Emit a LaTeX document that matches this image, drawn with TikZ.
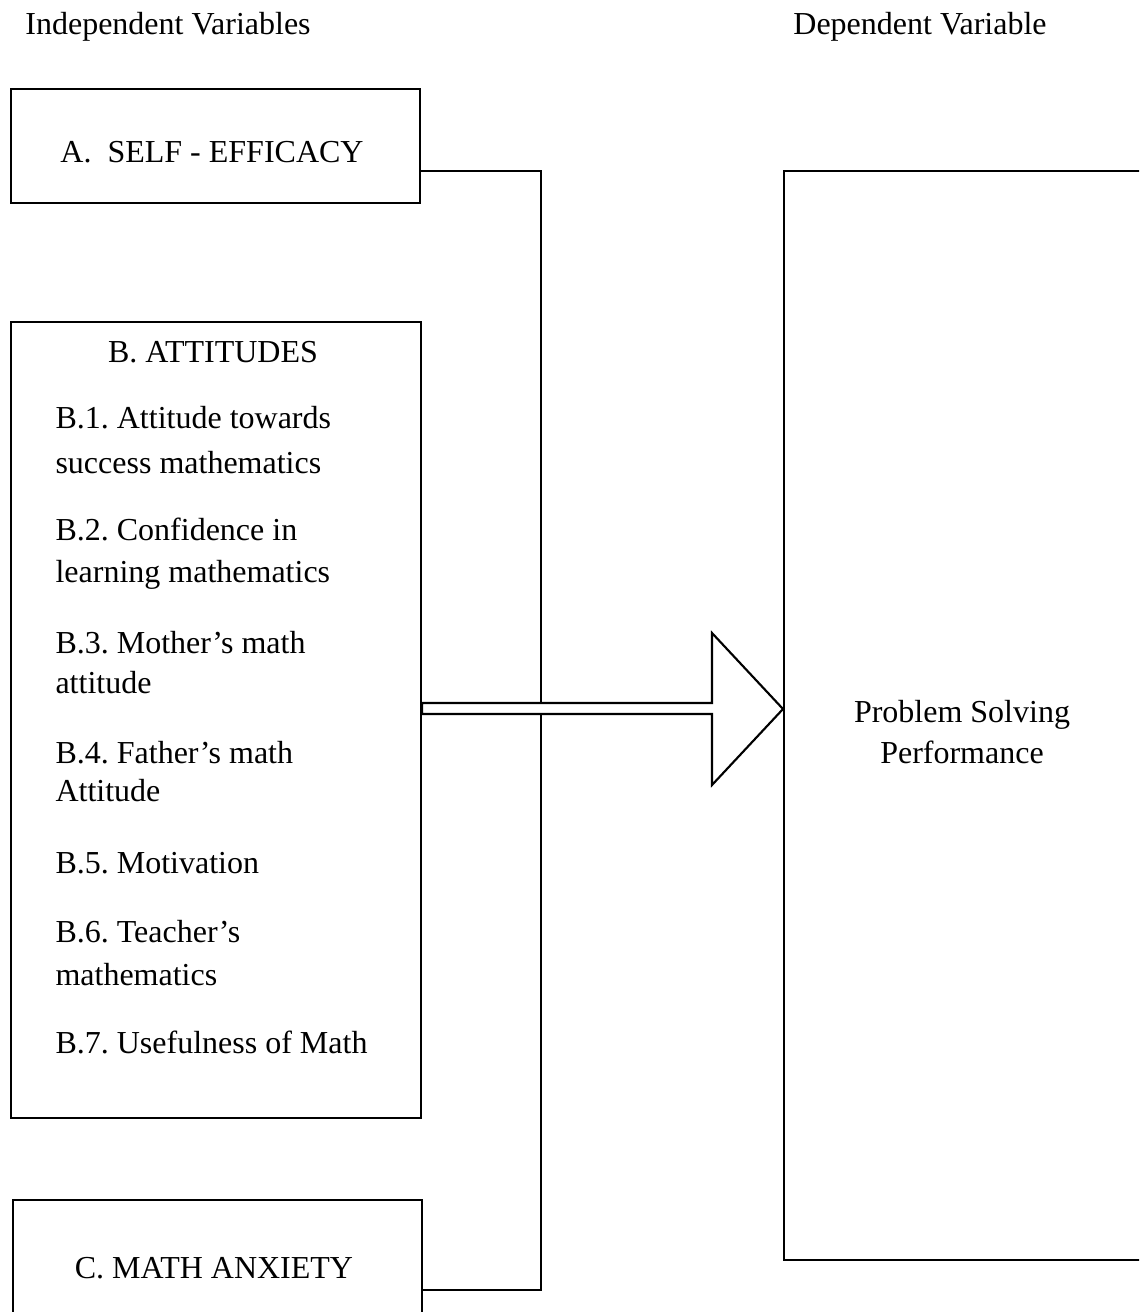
\documentclass[tikz,border=0pt]{standalone}
\usepackage{fontspec}
\setmainfont{Liberation Serif}
\usepackage{tikz}
\usetikzlibrary{positioning}
\frenchspacing

\begin{document}
\begin{tikzpicture}[x=0.375pt, y=-0.375pt,
  box/.style={draw, line width=0.8pt, inner sep=0pt, anchor=north west},
  txt/.style={font=\fontsize{12}{14.4}\selectfont, inner sep=0pt},
  link/.style={draw, line width=0.8pt, line join=miter}]
  \useasboundingbox (0,0) rectangle (1139,1312);
  \clip (0,0) rectangle (1139,1312);
  % headings
  \node[txt, anchor=base] (indep) at (168,35) {Independent Variables};
  \node[txt, anchor=base] (dep)   at (920,35) {Dependent Variable};
  % boxes
  \node[box, minimum width=153.4pt, minimum height=42.75pt]  (A)    at (10,88)   {};
  \node[box, minimum width=153.75pt, minimum height=298.5pt] (B)    at (10,321)  {};
  \node[box, minimum width=153.4pt, minimum height=52.9pt]   (C)    at (12,1199) {};
  \node[box, minimum width=134.25pt, minimum height=408.4pt] (perf) at (783,170) {};
  % box texts
  \node[txt, anchor=base] (Atext) at (212,163)  {A.\ \ SELF - EFFICACY};
  \node[txt, anchor=base] (Btext) at (213,362)  {B. ATTITUDES};
  \node[txt, anchor=base] (Ctext) at (214,1278) {C. MATH ANXIETY};
  \foreach \y/\t in {428/{B.1. Attitude towards}, 473/{success mathematics},
                     540/{B.2. Confidence in}, 582/{learning mathematics},
                     653/{B.3. Mother’s math}, 693/{attitude},
                     763/{B.4. Father’s math}, 801/{Attitude},
                     873/{B.5. Motivation},
                     942/{B.6. Teacher’s}, 985/{mathematics},
                     1053/{B.7. Usefulness of Math}}
    \node[txt, anchor=base west] (b\y) at (55,\y) {\t};
  \node[txt, anchor=base] (perf1) at (962,722) {Problem Solving};
  \node[txt, anchor=base] (perf2) at (962,763) {Performance};
  % joining line
  \coordinate (jtop) at (541,171);
  \coordinate (jbot) at (541,1290);
  \draw[link] (A.east |- jtop) -- (jtop) -- (jbot) -- (C.east |- jbot);
  % block arrow
  \coordinate (tip) at (perf.west |- 0,709);
  \draw[link, fill=white] (B.east |- 0,703) -- (712,703) -- (712,633) -- (tip)
    -- (712,785) -- (712,714) -- (B.east |- 0,714) -- cycle;
\end{tikzpicture}
\end{document}
